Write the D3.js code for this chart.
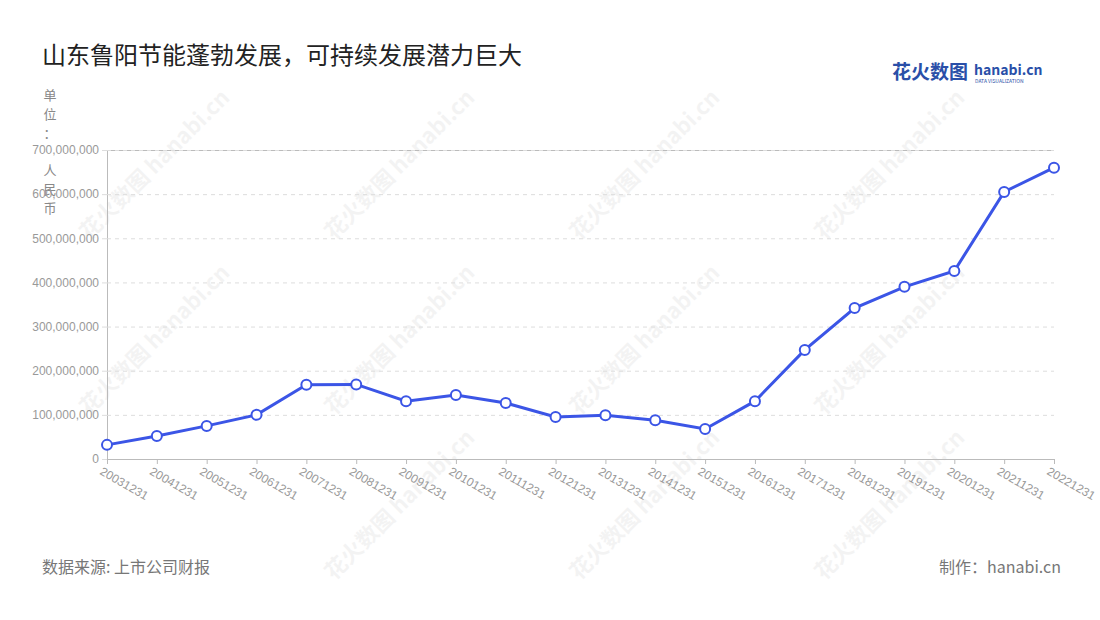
<!DOCTYPE html>
<html>
<head>
<meta charset='utf-8'>
<style>
	body { margin: 0; background: #fff; font-family: 'Noto Sans CJK SC', 'Noto Sans', sans-serif; }
	.tick > text { fill: #999; font-size: 12px; }
	.axis__y path.domain { stroke: #bbb; }
	.axis__y .tick line { stroke: #ddd; stroke-dasharray: 4 4; }
	.axis__x path.domain, .axis__x .tick line { stroke: #bbb; }
</style>
</head>
<body>
<script src='https://d3js.org/d3.v7.min.js'></script>
<script>
	'use strict';
	const categories = ['20031231','20041231','20051231','20061231','20071231','20081231','20091231','20101231','20111231','20121231','20131231','20141231','20151231','20161231','20171231','20181231','20191231','20201231','20211231','20221231'];
	const values = [32e6, 52e6, 75e6, 100e6, 168e6, 169e6, 131e6, 145e6, 127e6, 95e6, 99e6, 88e6, 68e6, 131e6, 247e6, 342e6, 390e6, 426e6, 605e6, 660e6];
	const yTicks = [0, 1e8, 2e8, 3e8, 4e8, 5e8, 6e8, 7e8];

	const margin = {top: 150, right: 46, bottom: 161, left: 107};
	const width = 1100 - margin.left - margin.right;
	const height = 620 - margin.top - margin.bottom;

	const root = d3.select('body').append('svg').attr('width', 1100).attr('height', 620);

	// watermarks
	const wm = root.append('g');
	[[160, 170], [405, 170], [650, 170], [895, 170], [160, 345], [405, 345], [650, 345], [895, 345], [405, 510], [650, 510], [895, 510]].forEach(function(p) {
		wm.append('text').attr('transform', 'translate(' + p[0] + ',' + p[1] + ') rotate(-45)')
			.attr('text-anchor', 'middle').attr('fill', '#000').attr('opacity', 0.045)
			.attr('font-size', 22).attr('font-weight', 'bold').text('花火数图 hanabi.cn');
	});

	root.append('text').attr('x', 42).attr('y', 64).attr('font-size', 24).attr('fill', '#222').text('山东鲁阳节能蓬勃发展，可持续发展潜力巨大');
	root.append('text').attr('x', 892).attr('y', 79).attr('font-size', 19).attr('font-weight', 'bold').attr('fill', '#2a4fa8').text('花火数图');
	root.append('text').attr('x', 974).attr('y', 75).attr('font-size', 14).attr('font-weight', 'bold').attr('fill', '#2a4fa8').text('hanabi.cn');
	root.append('text').attr('x', 975).attr('y', 83).attr('font-size', 5).attr('fill', '#2a4fa8').text('DATA VISUALIZATION');
	root.append('text').attr('x', 42).attr('y', 573).attr('font-size', 16).attr('fill', '#777').text('数据来源: 上市公司财报');
	root.append('text').attr('x', 1061).attr('y', 573).attr('font-size', 16).attr('fill', '#777').attr('text-anchor', 'end').text('制作：hanabi.cn');
	['单','位','：','人','民','币'].forEach(function(c, i) {
		root.append('text').attr('x', 50).attr('y', 100 + i * 19 + (i > 2 ? 18 : 0)).attr('text-anchor', 'middle')
			.attr('font-size', 13).attr('fill', '#888').text(c);
	});

	const svg = root.append('g').attr('transform', 'translate(' + margin.left + ',' + margin.top + ')');
	const xScale = d3.scalePoint().domain(categories).range([0, width]);
	const yScale = d3.scaleLinear().domain([0, 7e8]).range([height, 0]);

	svg.append('g').attr('class', 'axis axis__y')
		.call(d3.axisLeft(yScale).tickValues(yTicks).tickSize(-width).tickPadding(8).tickFormat(d3.format(',')))
		.call(function(g) { g.selectAll('.tick line').filter(function(d) { return d === 0; }).remove(); });
	svg.select('.axis__y').selectAll('.tick').append('line').attr('x2', -5).attr('stroke', '#bbb').style('stroke-dasharray', 'none');

	svg.append('g').attr('class', 'axis axis__x')
		.attr('transform', 'translate(0,' + height + ')')
		.call(d3.axisBottom(xScale).tickSize(5))
		.selectAll('text')
		.attr('text-anchor', 'start').attr('dx', 0).attr('dy', 9)
		.attr('transform', 'rotate(30)');

	const line = d3.line().x(function(d, i) { return xScale(categories[i]); }).y(function(d) { return yScale(d); });
	svg.append('path').datum(values).attr('d', line).attr('fill', 'none').attr('stroke', '#3b55e6').attr('stroke-width', 3);
	svg.selectAll('.dot').data(values).enter().append('circle')
		.attr('cx', function(d, i) { return xScale(categories[i]); })
		.attr('cy', function(d) { return yScale(d); })
		.attr('r', 5).attr('fill', '#fff').attr('stroke', '#3b55e6').attr('stroke-width', 2);
</script>
</body>
</html>
